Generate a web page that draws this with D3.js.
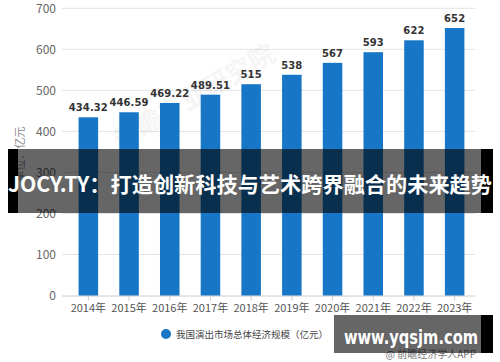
<!DOCTYPE html>
<html>
<head>
<meta charset="utf-8">
<script src="https://cdn.jsdelivr.net/npm/d3@7"></script>
<style>
  body { margin: 0; background: #fff; }
  svg { display: block; font-family: "Noto Sans CJK SC", "Microsoft YaHei", sans-serif; }
</style>
</head>
<body>
<div class="chart"></div>
<script>
// data
const years = ["2014年", "2015年", "2016年", "2017年", "2018年", "2019年", "2020年", "2021年", "2022年", "2023年"];
const marketSize = [434.32, 446.59, 469.22, 489.51, 515, 538, 567, 593, 622, 652];
const valueLabels = ["434.32", "446.59", "469.22", "489.51", "515", "538", "567", "593", "622", "652"];
const yTicks = [0, 100, 200, 300, 400, 500, 600, 700];
const seriesName = "我国演出市场总体经济规模（亿元）";
const bannerTitle = "JOCY.TY：打造创新科技与艺术跨界融合的未来趋势";
const siteName = "www.yqsjm.com";

const W = 500, H = 362;
const svg = d3.select(".chart").append("svg")
  .attr("width", W)
  .attr("height", H);

const x = d3.scaleBand().domain(years).range([68, 475]).paddingInner(0.52).paddingOuter(0.26);
const y = d3.scaleLinear().domain([0, 700]).range([295.5, 8.3]);

// gridlines
svg.append("g").selectAll("line")
  .data(yTicks.filter(d => d > 0))
  .enter().append("line")
  .attr("x1", 62).attr("x2", 475)
  .attr("y1", d => y(d)).attr("y2", d => y(d))
  .attr("stroke", "#e3e3e3");

// y axis labels
const yAxis = svg.append("g")
  .attr("transform", "translate(58,0)")
  .call(d3.axisLeft(y).tickValues(yTicks).tickSize(0).tickPadding(2));
yAxis.select(".domain").remove();
yAxis.selectAll("text").attr("fill", "#666").attr("font-size", 12)
  .attr("font-family", "'Noto Sans CJK SC', sans-serif");

// y title
svg.append("text")
  .attr("transform", "translate(24,154) rotate(-90)")
  .attr("text-anchor", "middle")
  .attr("fill", "#888")
  .attr("font-size", 11)
  .text("单位：亿元");

// x axis
const xAxis = svg.append("g")
  .attr("transform", "translate(0," + y(0) + ")")
  .call(d3.axisBottom(x).tickSize(5).tickPadding(4));
xAxis.select(".domain").attr("d", "M62,0.5H475").attr("stroke", "#ccc");
xAxis.selectAll(".tick line").attr("stroke", "#ccc");
xAxis.selectAll("text").attr("fill", "#555").attr("font-size", 11)
  .attr("font-family", "'Noto Sans CJK SC', sans-serif");

// faint watermark
svg.append("text")
  .attr("transform", "translate(120,150) rotate(-30)")
  .attr("fill", "#000").attr("opacity", 0.035)
  .attr("font-size", 26).attr("font-weight", "bold")
  .text("前瞻产业研究院");

// bars
svg.append("g").selectAll("rect")
  .data(marketSize)
  .enter().append("rect")
  .attr("x", (d, i) => x(years[i]))
  .attr("width", x.bandwidth())
  .attr("y", d => y(d))
  .attr("height", d => y(0) - y(d))
  .attr("fill", "#1777c6");

// value labels
svg.append("g").selectAll("text")
  .data(marketSize)
  .enter().append("text")
  .attr("x", (d, i) => x(years[i]) + x.bandwidth() / 2)
  .attr("y", d => y(d) - 6)
  .attr("text-anchor", "middle")
  .attr("fill", "#333")
  .attr("font-size", 10)
  .attr("font-weight", "bold")
  .attr("letter-spacing", 0.1)
  .attr("font-family", "'DejaVu Sans', sans-serif")
  .text((d, i) => valueLabels[i]);

// legend
svg.append("circle").attr("cx", 166).attr("cy", 334).attr("r", 5).attr("fill", "#1777c6");
svg.append("text")
  .attr("x", 176).attr("y", 337.5)
  .attr("fill", "#444").attr("font-size", 9.5)
  .text(seriesName);

// source credit
svg.append("text")
  .attr("x", 476).attr("y", 358)
  .attr("text-anchor", "end")
  .attr("fill", "#777").attr("font-size", 10)
  .text("@ 前瞻经济学人APP");

// title banner overlay
const banner = svg.append("g");
banner.append("rect").attr("x", 8).attr("y", 149).attr("width", 10).attr("height", 64).attr("fill", "#000");
banner.append("rect").attr("x", 481).attr("y", 149).attr("width", 12).attr("height", 64).attr("fill", "#000");
banner.append("rect").attr("x", 18).attr("y", 149).attr("width", 463).attr("height", 64)
  .attr("fill", "#000").attr("fill-opacity", 0.6);
banner.append("text")
  .attr("x", 8).attr("y", 192)
  .attr("fill", "#fff")
  .attr("font-size", 21)
  .attr("font-weight", "bold")
  .attr("textLength", 484)
  .attr("lengthAdjust", "spacingAndGlyphs")
  .text(bannerTitle);

// site box bottom right
const site = svg.append("g");
site.append("rect").attr("x", 481).attr("y", 315).attr("width", 12).attr("height", 38).attr("fill", "#000");
site.append("rect").attr("x", 334).attr("y", 315).attr("width", 147).attr("height", 38)
  .attr("fill", "#000").attr("fill-opacity", 0.6);
site.append("text")
  .attr("x", 344).attr("y", 344)
  .attr("fill", "#fff")
  .attr("font-size", 20)
  .attr("font-weight", "bold")
  .attr("font-family", "'DejaVu Sans', sans-serif")
  .attr("textLength", 134)
  .attr("lengthAdjust", "spacingAndGlyphs")
  .text(siteName);
</script>
</body>
</html>
